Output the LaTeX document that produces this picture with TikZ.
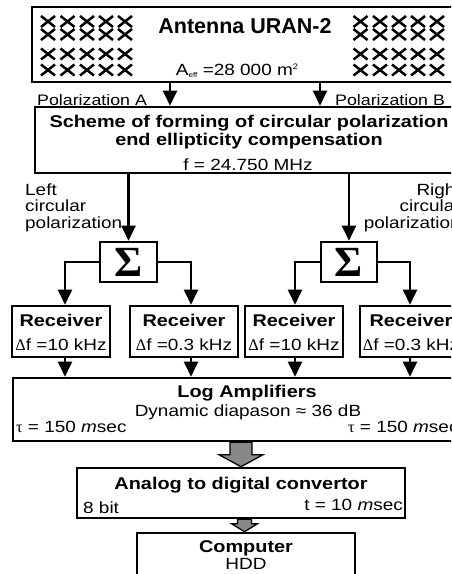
\documentclass[tikz,border=0pt]{standalone}
\usepackage{fontspec}
\setmainfont{Liberation Sans}[FakeStretch=1.17]
\newfontfamily\serifgr{Liberation Serif}
\newfontfamily\titlefam{Liberation Sans}
\usetikzlibrary{arrows.meta,calc,backgrounds}
\definecolor{arrgray}{RGB}{136,136,136}
\newcommand\SigGlyph{{\serifgr\bfseries\fontsize{43}{43}\selectfont Σ}}
\tikzset{
 box/.style={draw, line width=2.6pt, inner sep=0pt, rectangle},
 conn/.style={line width=2.2pt},
 arr/.style={conn, -{Triangle[width=14pt,length=15pt]}},
 bt/.style={font=\fontsize{17}{19}\selectfont\bfseries, inner sep=0pt},
 rt/.style={font=\fontsize{16.2}{18}\selectfont, inner sep=0pt},
 pt/.style={font=\fontsize{15.2}{18}\selectfont, inner sep=0pt},
 titlet/.style={font=\titlefam\fontsize{21.5}{24}\selectfont\bfseries, inner sep=0pt},
 garrow/.style={draw, line width=1.3pt, fill=arrgray, line join=miter},
 xmark/.style={line width=2.5pt},
}
\begin{document}
\begin{tikzpicture}[x=1pt,y=-1pt]
\useasboundingbox (0,0) rectangle (451,574);
\clip (0,0) rectangle (451,574);

% boxes
\node[box, minimum width=438pt, minimum height=75pt] (ant) at (251,44.5) {};
\node[box, minimum width=435pt, minimum height=66pt] (sch) at (252.5,140) {};
\node[box, minimum width=57pt, minimum height=40pt] (sigL) at (128.5,262) {\SigGlyph};
\node[box, minimum width=56pt, minimum height=40pt] (sigR) at (349,262) {\SigGlyph};
\node[box, minimum width=98pt, minimum height=51pt] (rec1) at (61,331.5) {};
\node[box, minimum width=108pt, minimum height=51pt] (rec2) at (184,331.5) {};
\node[box, minimum width=98pt, minimum height=51pt] (rec3) at (294,331.5) {};
\node[box, minimum width=102pt, minimum height=51pt] (rec4) at (411,331.5) {};
\node[box, minimum width=457pt, minimum height=63pt] (log) at (241.5,409.5) {};
\node[box, minimum width=328pt, minimum height=50pt] (adc) at (241,493) {};
\node[box, minimum width=218pt, minimum height=57pt] (comp) at (246,561.5) {};

% antenna element marks
\foreach \x in {48,67.5,87,106,125,360.5,380,399,418,437}
  \foreach \y in {21.5,34.5,54,70}
    {\draw[xmark] (\x-7,\y-5.5) -- (\x+7,\y+5.5) (\x-7,\y+5.5) -- (\x+7,\y-5.5);}

% texts
\node[titlet, anchor=base] (tAnt) at (245,33) {Antenna URAN-2};
\node[rt, anchor=base] (tAeff) at (237,75) {A\raisebox{-2.5pt}{\fontsize{7}{7}\selectfont eff} =28 000 m\raisebox{6pt}{\fontsize{8}{8}\selectfont 2}};
\node[pt, anchor=base west] (tPA) at (37,105) {Polarization A};
\node[pt, anchor=base west] (tPB) at (335,105) {Polarization B};
\node[bt, anchor=base] (tS1) at (249,127) {Scheme of forming of circular polarization};
\node[bt, anchor=base] (tS2) at (249,145) {end ellipticity compensation};
\node[rt, anchor=base] (tS3) at (248,170) {f = 24.750 MHz};
\node[rt, anchor=base west] (tL1) at (25,195) {Left};
\node[rt, anchor=base west] (tL2) at (25,211.5) {circular};
\node[rt, anchor=base west] (tL3) at (25,228) {polarization};
\node[rt, anchor=base east] (tR1) at (461,195) {Right};
\node[rt, anchor=base east] (tR2) at (461,211.5) {circular};
\node[rt, anchor=base east] (tR3) at (461,228) {polarization};

\node[bt, anchor=base] (r1a) at (61,326) {Receiver};
\node[bt, anchor=base] (r2a) at (184,326) {Receiver};
\node[bt, anchor=base] (r3a) at (294,326) {Receiver};
\node[bt, anchor=base] (r4a) at (411,326) {Receiver};
\node[rt, anchor=base] (r1b) at (61,350) {{\serifgr Δ}f =10 kHz};
\node[rt, anchor=base] (r2b) at (184,350) {{\serifgr Δ}f =0.3 kHz};
\node[rt, anchor=base] (r3b) at (294,350) {{\serifgr Δ}f =10 kHz};
\node[rt, anchor=base] (r4b) at (411,350) {{\serifgr Δ}f =0.3 kHz};

\node[bt, anchor=base] (tLog1) at (247,397) {Log Amplifiers};
\node[rt, anchor=base] (tLog2) at (248,416) {Dynamic diapason ≈ 36 dB};
\node[rt, anchor=base west] (tTauL) at (16,432) {{\serifgr τ} = 150 \textit{m}sec};
\node[rt, anchor=base west] (tTauR) at (348,432) {{\serifgr τ} = 150 \textit{m}sec};

\node[bt, anchor=base] (tAdc1) at (241,489) {Analog to digital convertor};
\node[rt, anchor=base west] (tAdc2) at (83,513) {8 bit};
\node[rt, anchor=base east] (tAdc3) at (403,510) {t = 10 \textit{m}sec};

\node[bt, anchor=base] (tC1) at (246,552) {Computer};
\node[rt, anchor=base] (tC2) at (246,569) {HDD};

% connectors
\coordinate (cA) at (170,0);
\coordinate (cB) at (320,0);
\coordinate (c1) at (65,0);
\coordinate (c2) at (191,0);
\coordinate (c3) at (295,0);
\coordinate (c4) at (410,0);
\draw[arr] (cA |- ant.south) -- (cA |- sch.north);
\draw[arr] (cB |- ant.south) -- (cB |- sch.north);
\draw[arr] (sigL |- sch.south) -- (sigL.north);
\draw[arr] (sigR |- sch.south) -- (sigR.north);
\draw[arr] (sigL.west) -| (c1 |- rec1.north);
\draw[arr] (sigL.east) -| (c2 |- rec2.north);
\draw[arr] (sigR.west) -| (c3 |- rec3.north);
\draw[arr] (sigR.east) -| (c4 |- rec4.north);
\draw[arr] (c1 |- rec1.south) -- (c1 |- log.north);
\draw[arr] (c2 |- rec2.south) -- (c2 |- log.north);
\draw[arr] (c3 |- rec3.south) -- (c3 |- log.north);
\draw[arr] (c4 |- rec4.south) -- (c4 |- log.north);

% gray block arrows
\begin{pgfonlayer}{background}
\draw[garrow] (adc.north) -- ++(-22,-12) -- ++(11,0) -- ++(0,-12.4) -- ++(22,0) -- ++(0,12.4) -- ++(11,0) -- cycle;
\draw[garrow] ([xshift=-1.5pt]comp.north) -- ++(-13,-8) -- ++(6,0) -- ++(0,-4.4) -- ++(14,0) -- ++(0,4.4) -- ++(6,0) -- cycle;
\end{pgfonlayer}
\end{tikzpicture}
\end{document}
